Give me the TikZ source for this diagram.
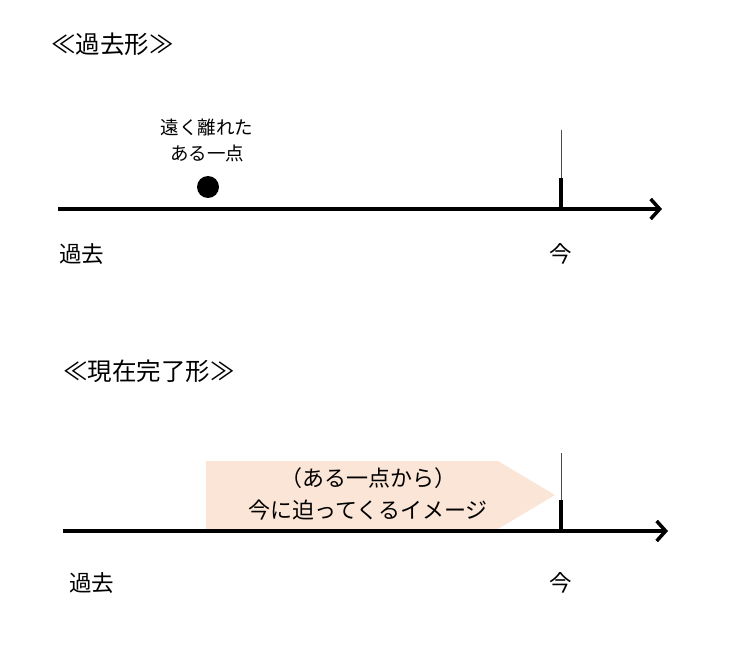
\documentclass[tikz,border=0pt]{standalone}
\usepackage{fontspec}
\setmainfont{Noto Sans CJK JP}
\usepackage{xcolor}
\usetikzlibrary{arrows.meta, positioning, shapes.symbols}
\definecolor{peach}{HTML}{FBE5D6}

\begin{document}
\begin{tikzpicture}[x=1pt, y=-1pt,
    axis/.style={line width=4pt, -{Straight Barb[length=9pt, width=20pt, line width=3.5pt]}},
    label/.style={font=\fontsize{22.5}{24}\selectfont, inner sep=0pt},
    title/.style={font=\fontsize{24.5}{26}\selectfont, anchor=west, inner sep=0pt},
    ticklo/.style={line width=4pt},
    tickhi/.style={line width=0.8pt, black!70}]

    \useasboundingbox (0,0) rectangle (730,666);

    % past tense
    \node[title] (t1) at (51,44) {≪過去形≫};
    \coordinate (a1) at (58,209);
    \coordinate (b1) at (662,209);
    \draw[axis] (a1) -- (b1);
    \coordinate (n1) at (561,209);
    \coordinate (m1) at (561,178);
    \coordinate (h1) at (561,130);
    \draw[ticklo] (n1) -- (m1);
    \draw[tickhi] (m1) -- (h1);
    \node[label, anchor=west] (past1) at (59,254) {過去};
    \node[label] (now1) at (561,254) {今};
    \node[circle, fill=black, minimum size=22pt, inner sep=0pt] (dot) at (208,187) {};
    \node[font=\fontsize{18.5}{26}\selectfont, align=center, inner sep=0pt] (far) at (207,140) {遠く離れた\\ある一点};

    % present perfect
    \node[title] (t2) at (63,371) {≪現在完了形≫};
    \coordinate (a2) at (63,531);
    \coordinate (b2) at (668,531);
    \fill[peach] (206,461) -- (498,461) -- (555,495) -- (498,529) -- (206,529) -- cycle;
    \draw[axis] (a2) -- (b2);
    \coordinate (n2) at (561,531);
    \coordinate (m2) at (561,500);
    \coordinate (h2) at (561,453);
    \draw[ticklo] (n2) -- (m2);
    \draw[tickhi] (m2) -- (h2);
    \node[font=\fontsize{22}{32}\selectfont, align=center, inner sep=0pt] (img) at (368,494) {（ある一点から）\\今に迫ってくるイメージ};
    \node[label, anchor=west] (past2) at (69,583) {過去};
    \node[label] (now2) at (561,583) {今};

\end{tikzpicture}
\end{document}
